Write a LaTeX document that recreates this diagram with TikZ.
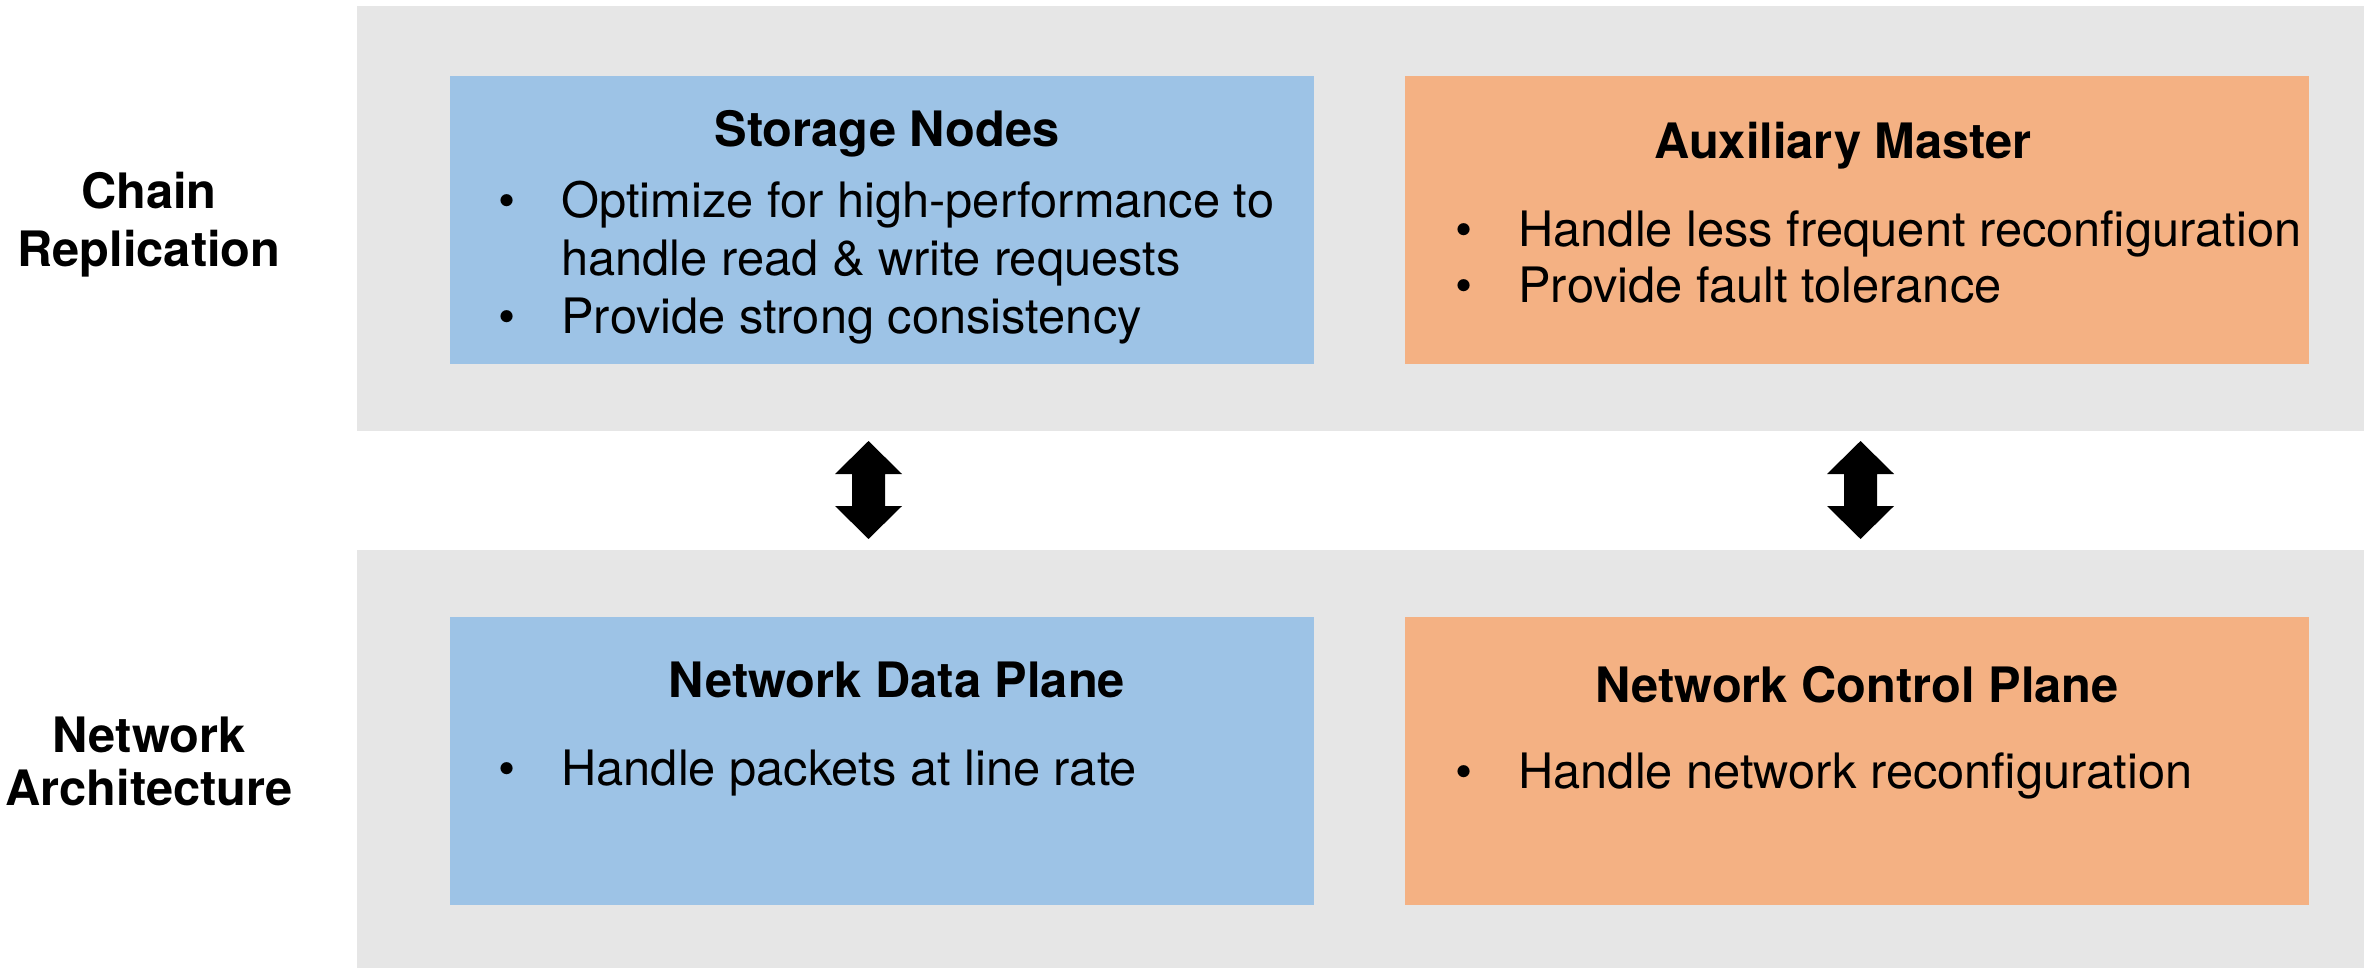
\documentclass[tikz,border=0pt]{standalone}
\usepackage{fontspec}
\setmainfont{TeX Gyre Heros}
\usetikzlibrary{fit}
\definecolor{panelgray}{HTML}{E6E6E6}
\definecolor{dataBlue}{HTML}{9DC3E6}
\definecolor{ctrlOrange}{HTML}{F4B183}
\newcommand{\bodyfont}{\fontsize{24.4}{29}\selectfont}
\tikzset{
  panel/.style={fill=panelgray, draw=none, inner sep=0pt},
  bluebox/.style={fill=dataBlue, draw=none, inner sep=0pt},
  orangebox/.style={fill=ctrlOrange, draw=none, inner sep=0pt},
  ttl/.style={anchor=base, font=\bodyfont\bfseries, inner sep=0pt},
  side/.style={anchor=base, font=\bodyfont\bfseries, inner sep=0pt},
  itemtext/.style={anchor=base west, font=\bodyfont, inner sep=0pt},
  bul/.style={anchor=base, font=\bodyfont, inner sep=0pt},
  dblarrow/.pic={
    \fill[black] (0,-49) -- (33.5,-16) -- (16.5,-16) -- (16.5,16) -- (33.5,16)
      -- (0,49) -- (-33.5,16) -- (-16.5,16) -- (-16.5,-16) -- (-33.5,-16) -- cycle;
  }
}
\begin{document}
\begin{tikzpicture}[x=0.5pt, y=-0.5pt]
\useasboundingbox (0,0) rectangle (2364,968);

% layer panels
\node[panel, fit={(357,6) (2364,431)}] (crpanel) {};
\node[panel, fit={(357,550) (2364,968)}] (napanel) {};

% component boxes
\node[bluebox, fit={(450,76) (1314,364)}] (storage) {};
\node[orangebox, fit={(1405,76) (2309,364)}] (aux) {};
\node[bluebox, fit={(450,617) (1314,905)}] (dataplane) {};
\node[orangebox, fit={(1405,617) (2309,905)}] (ctrlplane) {};

% layer labels
\node[side] (chain) at (149,209) {Chain};
\node[side] (repl) at (149,266) {Replication};
\node[side] (net) at (149,752) {Network};
\node[side] (arch) at (149,805) {Architecture};

% Storage Nodes
\node[ttl] (sntitle) at (887,147) {Storage Nodes};
\node[bul] (snb1) at (507,218) {•};
\node[itemtext] (sn1) at (561,218) {Optimize for high-performance to};
\node[itemtext] (sn2) at (561,275) {handle read \& write requests};
\node[bul] (snb2) at (507,333) {•};
\node[itemtext] (sn3) at (561,333) {Provide strong consistency};

% Auxiliary Master
\node[ttl] (amtitle) at (1843,159) {Auxiliary Master};
\node[bul] (amb1) at (1464,247) {•};
\node[itemtext] (am1) at (1518,247) {Handle less frequent reconfiguration};
\node[bul] (amb2) at (1464,302) {•};
\node[itemtext] (am2) at (1518,302) {Provide fault tolerance};

% Network Data Plane
\node[ttl] (dptitle) at (897,697) {Network Data Plane};
\node[bul] (dpb1) at (507,785) {•};
\node[itemtext] (dp1) at (561,785) {Handle packets at line rate};

% Network Control Plane
\node[ttl] (cptitle) at (1857,702) {Network Control Plane};
\node[bul] (cpb1) at (1464,788) {•};
\node[itemtext] (cp1) at (1518,788) {Handle network reconfiguration};

% two-way links between the layers
\coordinate (link1) at (868.5,490);
\coordinate (link2) at (1860.5,490);
\pic at (link1) {dblarrow};
\pic at (link2) {dblarrow};
\end{tikzpicture}
\end{document}
